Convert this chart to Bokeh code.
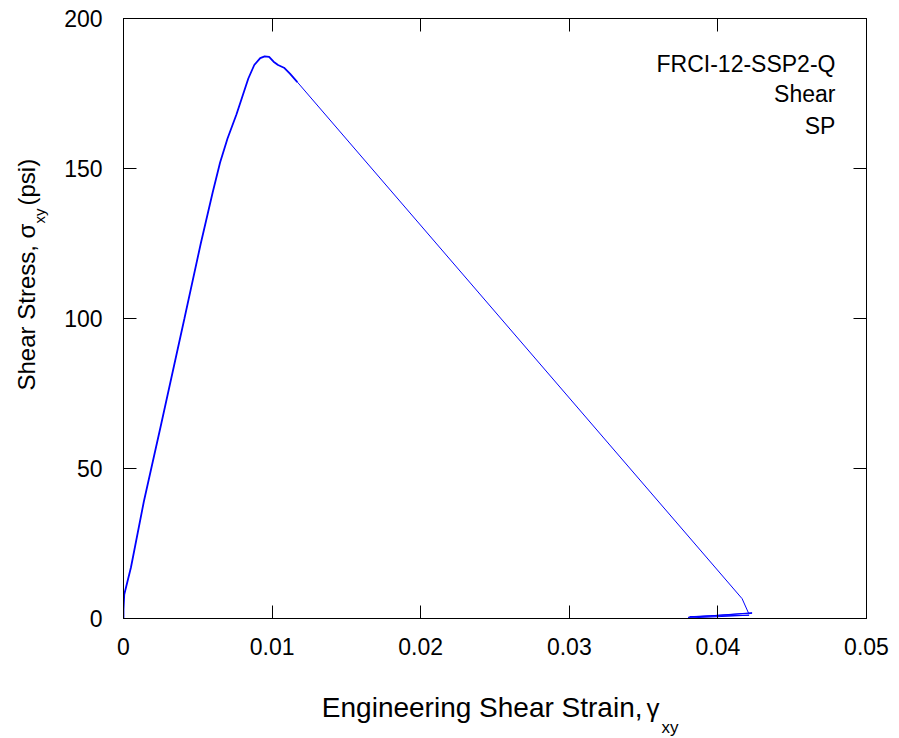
import math
from bokeh.plotting import figure
from bokeh.models import LinearAxis, FixedTicker, Range1d
from bokeh.layouts import row, column
from bokeh.core.properties import value
from bokeh.embed import file_html
from bokeh.resources import INLINE

# ---- data ----
strain = [0.0, 0.0, 0.00005, 0.0005, 0.00137, 0.0025, 0.0041, 0.0052, 0.0060,
          0.0065, 0.0070, 0.0076, 0.0080, 0.0084, 0.0088, 0.0092, 0.0095,
          0.0098, 0.0101, 0.0104, 0.0108, 0.0112, 0.0117,
          0.04163, 0.04208, 0.0423, 0.0380, 0.0381, 0.0400,
          0.0421, 0.0402, 0.0381, 0.0395, 0.0423]
stress = [0.0, 3.0, 8.0, 17.0, 39.0, 64.0, 100.0, 125.0, 142.0,
          152.0, 160.0, 168.0, 174.0, 180.0, 184.5, 186.8, 187.4,
          187.2, 185.6, 184.5, 183.6, 181.6, 178.8,
          6.6, 1.6, 1.8, 0.4, 0.2, 0.6,
          1.1, 0.9, 0.6, 0.9, 1.9]
split = 22  # index where the long straight unloading branch starts

x_ticks = [0.0, 0.01, 0.02, 0.03, 0.04, 0.05]
x_tick_labels = ["0", "0.01", "0.02", "0.03", "0.04", "0.05"]
y_ticks = [0, 50, 100, 150, 200]
y_tick_labels = ["0", "50", "100", "150", "200"]

notes = ["FRCI-12-SSP2-Q", "Shear", "SP"]
notes_y = [184.9, 174.8, 164.3]

FONT = "Liberation Sans"

W, H = 899, 738
LEFT_W = 55        # width of the strip holding the y-axis title
MAIN_H = 665       # height of the main plot
FL, FR = 123, 866  # page x of the plot frame's left / right edges

# ---------------- main plot ----------------
p = figure(width=W - LEFT_W, height=MAIN_H, output_backend="svg", toolbar_location=None,
           x_range=Range1d(0, 0.05), y_range=Range1d(0, 200),
           x_axis_location=None, y_axis_location=None,
           min_border_left=FL - LEFT_W, min_border_right=W - FR, min_border_top=18,
           min_border_bottom=MAIN_H - 618)
p.xgrid.visible = False
p.ygrid.visible = False
p.outline_line_color = "black"
p.outline_line_width = 1


def style_axis(ax, ticks, labels, show_labels, standoff):
    ax.ticker = FixedTicker(ticks=ticks)
    ax.major_label_overrides = {t: (l if show_labels else "") for t, l in zip(ticks, labels)}
    ax.major_tick_in = 13
    ax.major_tick_out = 0
    ax.minor_tick_line_color = None
    ax.major_tick_line_color = "black"
    ax.axis_line_color = "black"
    ax.major_label_text_font = FONT
    ax.major_label_text_color = "black"
    ax.major_label_text_font_size = "23px"
    ax.major_label_standoff = standoff


bx = LinearAxis(); style_axis(bx, x_ticks, x_tick_labels, True, 19)
tx = LinearAxis(); style_axis(tx, x_ticks, x_tick_labels, False, 0)
ly = LinearAxis(); style_axis(ly, y_ticks, y_tick_labels, True, 21)
ry = LinearAxis(); style_axis(ry, y_ticks, y_tick_labels, False, 0)
p.add_layout(bx, "below")
p.add_layout(tx, "above")
p.add_layout(ly, "left")
p.add_layout(ry, "right")

p.line(strain[:split + 1], stress[:split + 1], line_color="#0000ff", line_width=1.8)
p.line(strain[split:], stress[split:], line_color="#0000ff", line_width=1.0)

p.text(x=[0.04791] * len(notes), y=notes_y, text=notes, text_align="right",
       text_baseline="middle", text_font=value(FONT), text_font_size="23px",
       text_color="black")

# ---------------- x-axis title strip (page coordinates, frame aligned with main) ----
bot = figure(width=W - LEFT_W, height=H - MAIN_H, output_backend="svg", toolbar_location=None,
             x_range=Range1d(FL, FR), y_range=Range1d(H, MAIN_H),
             x_axis_location=None, y_axis_location=None,
             min_border_left=FL - LEFT_W, min_border_right=W - FR,
             min_border_top=0, min_border_bottom=0, outline_line_color=None)
bot.xgrid.visible = False
bot.ygrid.visible = False
bot.text(x=[642], y=[707], text=["Engineering Shear Strain,"], text_align="right",
         text_baseline="middle", text_font=value(FONT), text_font_size="28px",
         text_color="black")
bot.text(x=[646], y=[707], text=["γ"], text_align="left",
         text_baseline="middle", text_font=value(FONT), text_font_size="26px",
         text_color="black")
bot.text(x=[661], y=[727], text=["xy"], text_align="left",
         text_baseline="middle", text_font=value(FONT), text_font_size="17px",
         text_color="black")

# ---------------- y-axis title strip (page coordinates) ----------------
lft = figure(width=LEFT_W, height=H, output_backend="svg", toolbar_location=None,
             x_range=Range1d(0, LEFT_W), y_range=Range1d(H, 0),
             x_axis_location=None, y_axis_location=None,
             min_border=0, outline_line_color=None)
lft.xgrid.visible = False
lft.ygrid.visible = False
lft.text(x=[26], y=[390], text=["Shear Stress, σ"], text_align="left",
         text_baseline="middle", angle=math.pi / 2, text_font=value(FONT),
         text_font_size="24px", text_color="black")
lft.text(x=[38.5], y=[223], text=["xy"], text_align="left",
         text_baseline="middle", angle=math.pi / 2, text_font=value(FONT),
         text_font_size="15px", text_color="black")
lft.text(x=[26], y=[205], text=["(psi)"], text_align="left",
         text_baseline="middle", angle=math.pi / 2, text_font=value(FONT),
         text_font_size="24px", text_color="black")

layout = row(lft, column(p, bot, spacing=0), spacing=0)

open("out.html", "w").write(file_html(layout, INLINE))
